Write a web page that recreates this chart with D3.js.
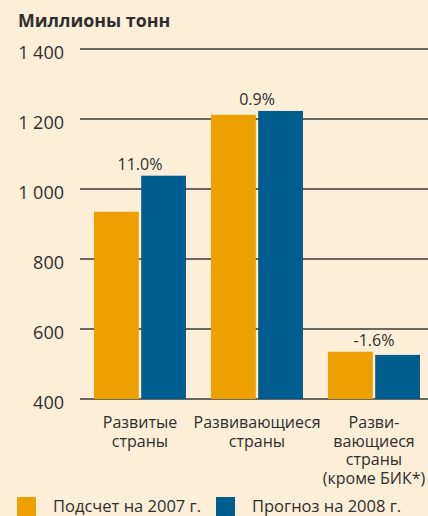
<!DOCTYPE html>
<html>
<head>
<meta charset="utf-8">
<script src="https://cdn.jsdelivr.net/npm/d3@7"></script>
<style>
  html, body { margin: 0; padding: 0; background: #fdeed7; }
  svg { display: block; font-family: "Open Sans", sans-serif; }
  .tick text { fill: #2e2e2e; }
</style>
</head>
<body>
<div id="chart"></div>
<script>
var categories = [
  ["Развитые", "страны"],
  ["Развивающиеся", "страны"],
  ["Разви-", "вающиеся", "страны", "(кроме БИК*)"]
];
var series = ["Подсчет на 2007 г.", "Прогноз на 2008 г."];
var values2007 = [935, 1212, 535];
var values2008 = [1038, 1223, 526];
var changeLabels = ["11.0%", "0.9%", "-1.6%"];
var yTicks = [400, 600, 800, 1000, 1200, 1400];
var colors = ["#eea000", "#005d90"];

var width = 428, height = 516;

var svg = d3.select("#chart")
  .append("svg")
  .attr("width", width)
  .attr("height", height);

svg.append("rect")
  .attr("width", width)
  .attr("height", height)
  .attr("fill", "#fdeed7");

// title
svg.append("text")
  .attr("x", 18)
  .attr("y", 27)
  .attr("font-size", 17.8)
  .attr("font-weight", "bold")
  .attr("fill", "#2e2e2e")
  .text("Миллионы тонн");

var yScale = d3.scaleLinear().domain([400, 1400]).range([399, 49]);

var x0 = d3.scaleBand()
  .domain(d3.range(categories.length))
  .range([81.5, 432.5])
  .padding(0);

var x1 = d3.scaleBand()
  .domain(d3.range(series.length))
  .range([12.5, x0.bandwidth() - 12.5])
  .paddingInner(0.05);

// grid lines
var grid = svg.append("g").attr("class", "grid");
grid.selectAll("line")
  .data(yTicks)
  .enter()
  .append("line")
  .attr("x1", 80)
  .attr("x2", width)
  .attr("y1", function(d) { return yScale(d); })
  .attr("y2", function(d) { return yScale(d); })
  .attr("stroke", "#3a3a3a")
  .attr("stroke-width", 1.4);

// y axis labels
var yAxis = d3.axisLeft(yScale)
  .tickValues(yTicks)
  .tickSize(0)
  .tickPadding(0)
  .tickFormat(function(d) { return d3.format(",")(d).replace(",", " "); });

svg.append("g")
  .attr("id", "y-axis")
  .attr("transform", "translate(64,0)")
  .call(yAxis)
  .call(function(g) { g.select(".domain").remove(); })
  .selectAll("text")
  .attr("font-size", 18)
  .attr("font-family", "Open Sans, sans-serif")
  .attr("dy", "0.55em");

// bars
var rows = categories.map(function(c, i) {
  return { i: i, vals: [values2007[i], values2008[i]] };
});

var groups = svg.append("g")
  .attr("class", "bars")
  .selectAll("g")
  .data(rows)
  .enter()
  .append("g")
  .attr("transform", function(d) { return "translate(" + x0(d.i) + ",0)"; });

groups.selectAll("rect")
  .data(function(d) { return d.vals; })
  .enter()
  .append("rect")
  .attr("x", function(d, j) { return x1(j); })
  .attr("width", x1.bandwidth())
  .attr("y", function(d) { return yScale(d); })
  .attr("height", function(d) { return yScale(400) - yScale(d); })
  .attr("fill", function(d, j) { return colors[j]; });

// change labels
groups.append("text")
  .attr("x", x0.bandwidth() / 2)
  .attr("y", function(d) { return yScale(d3.max(d.vals)) - 6; })
  .attr("text-anchor", "middle")
  .attr("font-size", 16)
  .attr("fill", "#2e2e2e")
  .text(function(d) { return changeLabels[d.i]; });

// category labels
groups.append("text")
  .attr("text-anchor", "middle")
  .attr("font-size", 16)
  .attr("fill", "#2e2e2e")
  .selectAll("tspan")
  .data(function(d) { return categories[d.i]; })
  .enter()
  .append("tspan")
  .attr("x", x0.bandwidth() / 2)
  .attr("y", function(d, k) { return 428 + k * 18.5; })
  .text(function(d) { return d; });

// legend
var legendX = [17, 216];
var legend = svg.append("g").attr("id", "legend");
var items = legend.selectAll("g")
  .data(series)
  .enter()
  .append("g")
  .attr("transform", function(d, i) { return "translate(" + legendX[i] + ",497)"; });

items.append("rect")
  .attr("width", 19)
  .attr("height", 19)
  .attr("fill", function(d, i) { return colors[i]; });

items.append("text")
  .attr("x", 36)
  .attr("y", 15)
  .attr("font-size", 16.5)
  .attr("fill", "#2e2e2e")
  .text(function(d) { return d; });
</script>
</body>
</html>
